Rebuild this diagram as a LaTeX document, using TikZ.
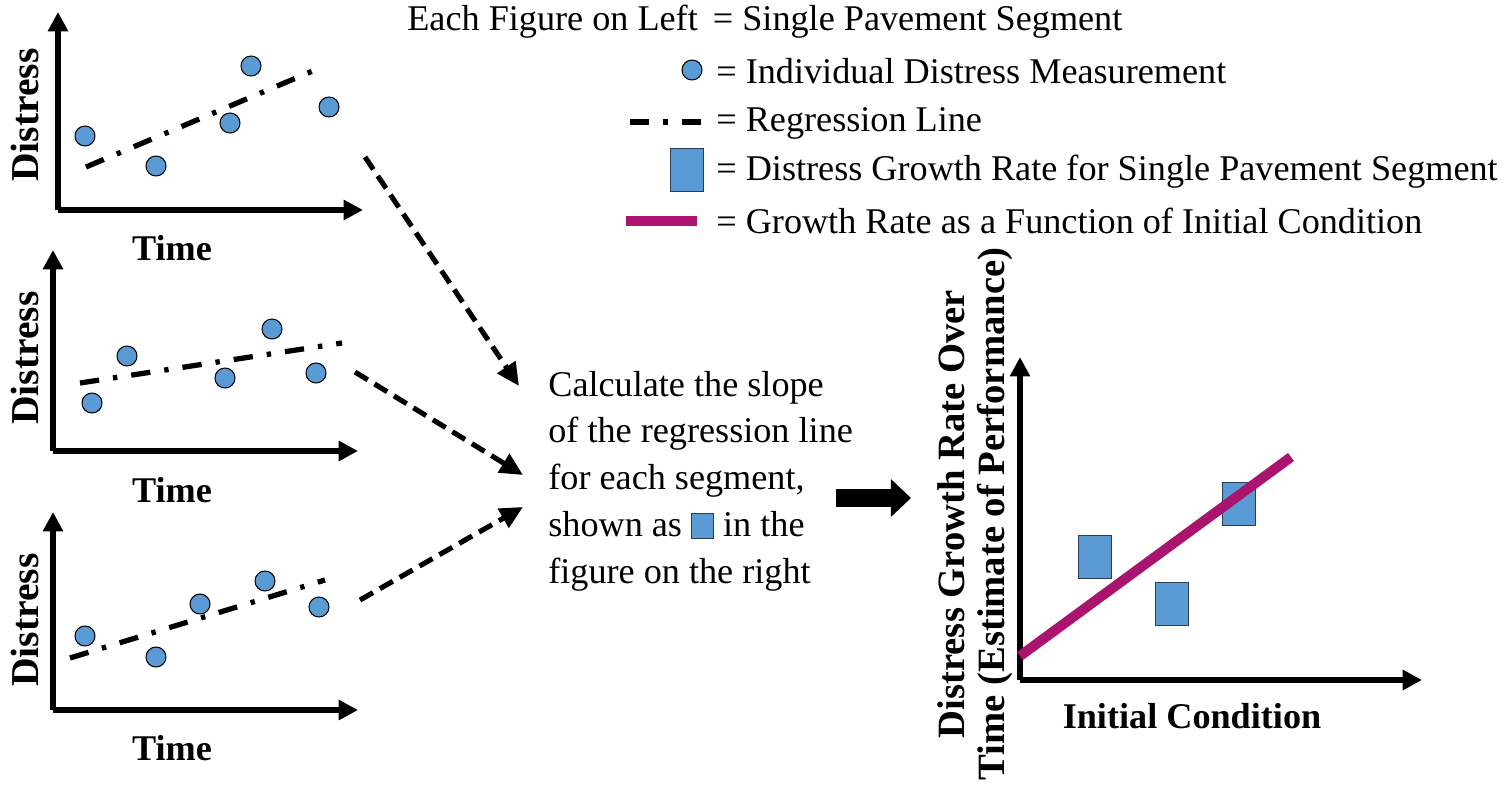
\documentclass[tikz,border=0pt]{standalone}
\usepackage{fontspec}
\setmainfont{Liberation Serif}
\usetikzlibrary{arrows.meta}

\definecolor{ptblue}{RGB}{91,155,213}
\definecolor{sqedge}{RGB}{45,60,85}
\definecolor{fitline}{RGB}{170,20,110}

\newcommand{\sqmark}{\tikz[baseline=0pt]\draw[draw=sqedge,fill=ptblue,line width=0.6pt] (0pt,-1pt) rectangle (12.5pt,13pt);}

\begin{document}
\begin{tikzpicture}[x=0.02cm,y=-0.02cm,line join=miter]
	\tikzstyle{pt}=[circle,draw=black,fill=ptblue,line width=0.6pt,minimum size=0.4cm,inner sep=0pt]
	\tikzstyle{rate}=[rectangle,draw=sqedge,fill=ptblue,line width=0.6pt,minimum width=0.66cm,minimum height=0.87cm,inner sep=0pt]
	\tikzstyle{axis}=[line width=2.9pt,-{Triangle[length=11pt,width=11pt]}]
	\tikzstyle{reg}=[line width=3pt,dash pattern=on 11pt off 8pt on 2.5pt off 8pt]
	\tikzstyle{flow}=[line width=2.9pt,dash pattern=on 8.5pt off 4.5pt,-{Triangle[length=13pt,width=12pt]}]
	\tikzstyle{lab}=[font=\fontsize{22.5}{24}\selectfont\bfseries,inner sep=0pt]
	\tikzstyle{txt}=[font=\fontsize{20.6}{24}\selectfont,inner sep=0pt]

	\useasboundingbox (0,0) rectangle (1506,784);

	% segment 1
	\coordinate (O1) at (58,210);
	\coordinate (Y1) at (58,12);
	\coordinate (X1) at (363,210);
	\draw[axis] (O1) -- (Y1);
	\draw[axis] (O1) -- (X1);
	\node[lab,rotate=90] (D1) at (25,115) {Distress};
	\node[lab,font=\fontsize{20.6}{24}\selectfont\bfseries] (T1) at (172,248) {Time};
	\coordinate (r1a) at (86,167);
	\coordinate (r1b) at (315,70);
	\draw[reg] (r1a) -- (r1b);
	\node[pt] (a1) at (85,136) {};
	\node[pt] (a2) at (156,166) {};
	\node[pt] (a3) at (230,123) {};
	\node[pt] (a4) at (251,66) {};
	\node[pt] (a5) at (329,107) {};

	% segment 2
	\coordinate (O2) at (53,451);
	\coordinate (Y2) at (53,250);
	\coordinate (X2) at (358,451);
	\draw[axis] (O2) -- (Y2);
	\draw[axis] (O2) -- (X2);
	\node[lab,rotate=90] (D2) at (25,358) {Distress};
	\node[lab,font=\fontsize{20.6}{24}\selectfont\bfseries] (T2) at (172,490) {Time};
	\coordinate (r2a) at (80,383);
	\coordinate (r2b) at (342,343);
	\draw[reg] (r2a) -- (r2b);
	\node[pt] (b1) at (92,403) {};
	\node[pt] (b2) at (127,356) {};
	\node[pt] (b3) at (225,378) {};
	\node[pt] (b4) at (272,329) {};
	\node[pt] (b5) at (316,373) {};

	% segment 3
	\coordinate (O3) at (53,710);
	\coordinate (Y3) at (53,512);
	\coordinate (X3) at (358,710);
	\draw[axis] (O3) -- (Y3);
	\draw[axis] (O3) -- (X3);
	\node[lab,rotate=90] (D3) at (25,620) {Distress};
	\node[lab,font=\fontsize{20.6}{24}\selectfont\bfseries] (T3) at (172,748) {Time};
	\coordinate (r3a) at (70,658);
	\coordinate (r3b) at (325,580);
	\draw[reg] (r3a) -- (r3b);
	\node[pt] (c1) at (85,636) {};
	\node[pt] (c2) at (156,657) {};
	\node[pt] (c3) at (200,604) {};
	\node[pt] (c4) at (265,581) {};
	\node[pt] (c5) at (319,607) {};

	% legend
	\node[txt,anchor=west] (L1) at (407,22) {Each Figure on Left\, = Single Pavement Segment};
	\node[pt] (Lc) at (692,70) {};
	\node[txt,anchor=west] (L2) at (716,71) {= Individual Distress Measurement};
	\coordinate (Lr1) at (630,122);
	\coordinate (Lr2) at (704,122);
	\draw[reg] (Lr1) -- (Lr2);
	\node[txt,anchor=west] (L3) at (716,123) {= Regression Line};
	\node[rate] (Ls) at (687,170) {};
	\node[txt,anchor=west] (L4) at (716,172) {= Distress Growth Rate for Single Pavement Segment};
	\coordinate (Lm1) at (626,221);
	\coordinate (Lm2) at (697,221);
	\draw[fitline,line width=5.5pt] (Lm1) -- (Lm2);
	\node[txt,anchor=west] (L5) at (716,221) {= Growth Rate as a Function of Initial Condition};

	% middle step
	\node[txt,anchor=west,align=left,font=\fontsize{20.6}{26.6}\selectfont] (M) at (548,481)
		{Calculate the slope\\of the regression line\\for each segment,\\shown as \sqmark\ in the\\figure on the right};
	\coordinate (s1) at (365,157);
	\coordinate (e1) at (519,386);
	\coordinate (s2) at (355,372);
	\coordinate (e2) at (523,475);
	\coordinate (s3) at (360,600);
	\coordinate (e3) at (523,507);
	\draw[flow] (s1) -- (e1);
	\draw[flow] (s2) -- (e2);
	\draw[flow] (s3) -- (e3);
	\coordinate (B1) at (836,498);
	\coordinate (B2) at (911,498);
	\draw[line width=10.5pt,-{Triangle[length=11.5pt,width=21pt]}] (B1) -- (B2);

	% result plot
	\coordinate (O4) at (1020,680);
	\coordinate (Y4) at (1020,357);
	\coordinate (X4) at (1422,680);
	\draw[axis] (O4) -- (Y4);
	\draw[axis] (O4) -- (X4);
	\node[rate] (q1) at (1095,557) {};
	\node[rate] (q2) at (1172,604) {};
	\node[rate] (q3) at (1239,504) {};
	\coordinate (f1) at (1020,656);
	\coordinate (f2) at (1291,457);
	\draw[fitline,line width=5.7pt] (f1) -- (f2);
	\node[lab,rotate=90,align=center,font=\fontsize{22}{23}\selectfont\bfseries] (GY) at (975,514)
		{Distress Growth Rate Over\\Time (Estimate of Performance)};
	\node[lab,font=\fontsize{20.6}{24}\selectfont\bfseries] (GX) at (1192,716) {Initial Condition};
\end{tikzpicture}
\end{document}
